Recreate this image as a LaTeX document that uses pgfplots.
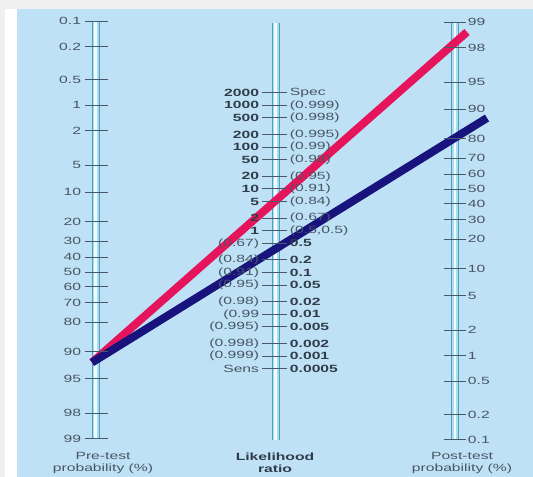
\documentclass[border=0pt]{standalone}
\usepackage{pgfplots}
\pgfplotsset{compat=1.18}
\usepackage{pgfplotstable}
\usepackage{fontspec}
\setmainfont{Liberation Sans}[FakeStretch=1.5, BoldFeatures={FakeStretch=1.5}]

\definecolor{bg}{RGB}{190,225,245}
\definecolor{frame}{RGB}{240,240,240}
\definecolor{txt}{RGB}{72,86,100}
\definecolor{txtb}{RGB}{48,60,74}
\definecolor{tickc}{RGB}{70,90,105}
\definecolor{barout}{RGB}{78,159,196}
\definecolor{barmid}{RGB}{170,221,242}
\definecolor{barin}{RGB}{245,252,255}
\definecolor{redl}{RGB}{230,20,90}
\definecolor{bluel}{RGB}{25,20,125}

% pre-test probability scale (pixel position, label)
\pgfplotstableread{
y label
21.3 0.1
46.5 0.2
79.9 0.5
105.2 1
130.7 2
165.1 5
192.2 10
221.7 20
241.2 30
257.3 40
272.0 50
286.7 60
302.8 70
322.3 80
351.8 90
378.9 95
413.3 98
438.8 99
}\pre

% post-test probability scale
\pgfplotstableread{
y label
22.2 99
47.7 98
82.1 95
109.2 90
138.7 80
158.2 70
174.3 60
189.0 50
203.7 40
219.8 30
239.3 20
268.8 10
295.9 5
330.3 2
355.8 1
381.1 0.5
414.5 0.2
439.7 0.1
}\post

% likelihood ratio scale, upper half
\pgfplotstableread{
y lr spec
92.7 2000 Spec
105.3 1000 (0.999)
117.9 500 (0.998)
134.5 200 (0.995)
147.1 100 (0.99)
159.7 50 (0.98)
176.3 20 (0.95)
188.9 10 (0.91)
201.5 5 (0.84)
218.1 2 (0.67)
230.7 1 (0.5,0.5)
}\midup

% likelihood ratio scale, lower half
\pgfplotstableread{
y sens lr
243.3 (0.67) 0.5
259.9 (0.84) 0.2
272.5 (0.91) 0.1
285.1 (0.95) 0.05
301.7 (0.98) 0.02
314.3 (0.99 0.01
326.9 (0.995) 0.005
343.5 (0.998) 0.002
356.1 (0.999) 0.001
368.7 Sens 0.0005
}\midlo

\begin{document}
\begin{tikzpicture}
\begin{axis}[
  x=1bp, y=1bp, y dir=reverse,
  xmin=0, xmax=533, ymin=0, ymax=477,
  hide axis, clip=false, scale only axis,
  lbl/.style={only marks, mark=-, mark options={line width=0.9bp, tickc},
    nodes near coords, point meta=explicit symbolic},
]
% background
\fill[frame] (axis cs:0,0) rectangle (axis cs:533,477);
\fill[white] (axis cs:5,9) rectangle (axis cs:17,477);
\fill[bg] (axis cs:17,9) rectangle (axis cs:533,477);

% scale bars
\addplot[barout, line width=8bp] coordinates {(95.5,21.3) (95.5,438.8)};
\addplot[barmid, line width=6bp] coordinates {(95.5,21.3) (95.5,438.8)};
\addplot[barin, line width=2.5bp] coordinates {(95.5,21.3) (95.5,438.8)};
\addplot[barout, line width=8bp] coordinates {(275.5,22.7) (275.5,440)};
\addplot[barmid, line width=6bp] coordinates {(275.5,22.7) (275.5,440)};
\addplot[barin, line width=2.5bp] coordinates {(275.5,22.7) (275.5,440)};
\addplot[barout, line width=8bp] coordinates {(455,22.2) (455,439.7)};
\addplot[barmid, line width=6bp] coordinates {(455,22.2) (455,439.7)};
\addplot[barin, line width=2.5bp] coordinates {(455,22.2) (455,439.7)};

% ticks and labels
\addplot[lbl, mark size=11.5bp,
  nodes near coords align={anchor=east},
  every node near coord/.append style={anchor=east, xshift=-15bp, inner sep=0pt,
    font=\fontsize{10.5}{12}\selectfont, text=txt}]
  table[x expr=96.5, y=y, meta=label] {\pre};
\addplot[lbl, mark size=11bp,
  nodes near coords align={anchor=west},
  every node near coord/.append style={anchor=west, xshift=13bp, inner sep=0pt,
    font=\fontsize{10.5}{12}\selectfont, text=txt}]
  table[x expr=454.5, y=y, meta=label] {\post};
\addplot[lbl, mark size=12.5bp,
  nodes near coords align={anchor=east},
  every node near coord/.append style={anchor=east, xshift=-15bp, inner sep=0pt,
    font=\fontsize{10.5}{12}\selectfont\bfseries, text=txtb}]
  table[x expr=274.5, y=y, meta=lr] {\midup};
\addplot[lbl, mark size=12.5bp,
  nodes near coords align={anchor=west},
  every node near coord/.append style={anchor=west, xshift=15bp, inner sep=0pt,
    font=\fontsize{10.5}{12}\selectfont, text=txt}]
  table[x expr=274.5, y=y, meta=spec] {\midup};
\addplot[lbl, mark size=12.5bp,
  nodes near coords align={anchor=east},
  every node near coord/.append style={anchor=east, xshift=-15bp, inner sep=0pt,
    font=\fontsize{10.5}{12}\selectfont, text=txt}]
  table[x expr=274.5, y=y, meta=sens] {\midlo};
\addplot[lbl, mark size=12.5bp,
  nodes near coords align={anchor=west},
  every node near coord/.append style={anchor=west, xshift=15bp, inner sep=0pt,
    font=\fontsize{10.5}{12}\selectfont\bfseries, text=txtb}]
  table[x expr=274.5, y=y, meta=lr] {\midlo};

% nomogram lines
\addplot[redl, line width=8bp] coordinates {(92,362.5) (467,32)};
\addplot[bluel, line width=8bp] coordinates {(92,362.5) (487,118)};

% scale titles
\node[align=center, text=txt, font=\fontsize{10.5}{12}\selectfont, inner sep=0pt]
  at (axis cs:103,463) {Pre-test\\probability (\%)};
\node[align=center, text=txtb, font=\fontsize{10.5}{12}\selectfont\bfseries, inner sep=0pt]
  at (axis cs:275,463) {Likelihood\\ratio};
\node[align=center, text=txt, font=\fontsize{10.5}{12}\selectfont, inner sep=0pt]
  at (axis cs:462,463) {Post-test\\probability (\%)};
\end{axis}
\end{tikzpicture}
\end{document}
